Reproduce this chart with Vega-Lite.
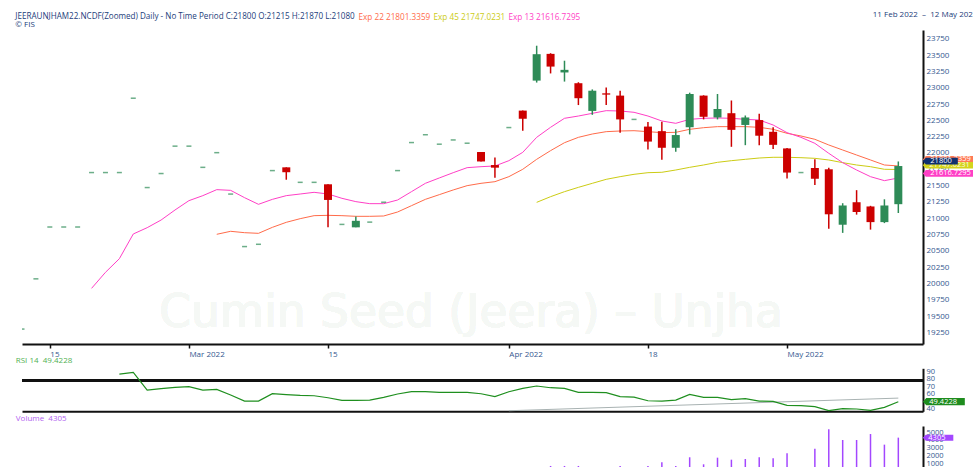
{
  "$schema": "https://vega.github.io/schema/vega-lite/v6.json",
  "background": "white",
  "padding": {"left": 15, "top": 10, "right": 0, "bottom": 0},
  "config": {
    "font": "Open Sans",
    "view": {"stroke": null},
    "axis": {"grid": false, "labelFont": "Open Sans", "titleFont": "Open Sans", "zindex": 0},
    "title": {"font": "Open Sans", "subtitleFont": "Open Sans"}
  },
  "datasets": {
    "rows": [
      {"date":"2022-02-11","o":19300,"h":19300,"l":19300,"c":19300,"e13":null,"e22":null,"e45":null,"rsi":null,"vol":0},
      {"date":"2022-02-14","o":20070,"h":20070,"l":20070,"c":20070,"e13":null,"e22":null,"e45":null,"rsi":null,"vol":0},
      {"date":"2022-02-15","o":20865,"h":20865,"l":20865,"c":20865,"e13":null,"e22":null,"e45":null,"rsi":null,"vol":0},
      {"date":"2022-02-16","o":20865,"h":20865,"l":20865,"c":20865,"e13":null,"e22":null,"e45":null,"rsi":null,"vol":0},
      {"date":"2022-02-17","o":20865,"h":20865,"l":20865,"c":20865,"e13":null,"e22":null,"e45":null,"rsi":null,"vol":0},
      {"date":"2022-02-18","o":21700,"h":21700,"l":21700,"c":21700,"e13":19924,"e22":null,"e45":null,"rsi":null,"vol":0},
      {"date":"2022-02-21","o":21700,"h":21700,"l":21700,"c":21700,"e13":20170,"e22":null,"e45":null,"rsi":null,"vol":0},
      {"date":"2022-02-22","o":21700,"h":21700,"l":21700,"c":21700,"e13":20379,"e22":null,"e45":null,"rsi":86.2,"vol":0},
      {"date":"2022-02-23","o":22840,"h":22840,"l":22840,"c":22840,"e13":20758,"e22":null,"e45":null,"rsi":88.5,"vol":0},
      {"date":"2022-02-24","o":21470,"h":21470,"l":21470,"c":21470,"e13":20855,"e22":null,"e45":null,"rsi":64.9,"vol":0},
      {"date":"2022-02-25","o":21685,"h":21685,"l":21685,"c":21685,"e13":20972,"e22":null,"e45":null,"rsi":66.7,"vol":0},
      {"date":"2022-02-28","o":22105,"h":22105,"l":22105,"c":22105,"e13":21126,"e22":null,"e45":null,"rsi":68.5,"vol":0},
      {"date":"2022-03-01","o":22105,"h":22105,"l":22105,"c":22105,"e13":21269,"e22":null,"e45":null,"rsi":69.4,"vol":0},
      {"date":"2022-03-02","o":21780,"h":21780,"l":21780,"c":21780,"e13":21346,"e22":null,"e45":null,"rsi":64.9,"vol":0},
      {"date":"2022-03-03","o":22005,"h":22005,"l":22005,"c":22005,"e13":21438,"e22":20753,"e45":null,"rsi":65.8,"vol":0},
      {"date":"2022-03-04","o":21370,"h":21370,"l":21370,"c":21370,"e13":21427,"e22":20799,"e45":null,"rsi":58.3,"vol":0},
      {"date":"2022-03-07","o":20565,"h":20565,"l":20565,"c":20565,"e13":21315,"e22":20778,"e45":null,"rsi":50.3,"vol":0},
      {"date":"2022-03-08","o":20600,"h":20600,"l":20600,"c":20600,"e13":21213,"e22":20768,"e45":null,"rsi":50.3,"vol":0},
      {"date":"2022-03-09","o":21730,"h":21730,"l":21730,"c":21730,"e13":21289,"e22":20860,"e45":null,"rsi":60.1,"vol":0},
      {"date":"2022-03-10","o":21780,"h":21780,"l":21590,"c":21705,"e13":21346,"e22":20937,"e45":null,"rsi":58.8,"vol":0},
      {"date":"2022-03-11","o":21550,"h":21550,"l":21550,"c":21550,"e13":21371,"e22":20993,"e45":null,"rsi":57.8,"vol":0},
      {"date":"2022-03-14","o":21550,"h":21550,"l":21550,"c":21550,"e13":21397,"e22":21039,"e45":null,"rsi":57.3,"vol":0},
      {"date":"2022-03-15","o":21520,"h":21520,"l":20860,"c":21280,"e13":21371,"e22":21044,"e45":null,"rsi":54.7,"vol":0},
      {"date":"2022-03-16","o":20905,"h":20905,"l":20905,"c":20905,"e13":21305,"e22":21039,"e45":null,"rsi":51.2,"vol":0},
      {"date":"2022-03-17","o":20860,"h":21025,"l":20860,"c":20960,"e13":21254,"e22":21029,"e45":null,"rsi":51.2,"vol":0},
      {"date":"2022-03-18","o":20940,"h":20940,"l":20940,"c":20940,"e13":21223,"e22":21029,"e45":null,"rsi":51.6,"vol":0},
      {"date":"2022-03-21","o":21245,"h":21245,"l":21245,"c":21245,"e13":21223,"e22":21034,"e45":null,"rsi":55.1,"vol":0},
      {"date":"2022-03-22","o":21730,"h":21730,"l":21730,"c":21730,"e13":21279,"e22":21095,"e45":null,"rsi":59.7,"vol":0},
      {"date":"2022-03-23","o":22160,"h":22160,"l":22160,"c":22160,"e13":21407,"e22":21192,"e45":null,"rsi":62.7,"vol":0},
      {"date":"2022-03-24","o":22280,"h":22280,"l":22280,"c":22280,"e13":21535,"e22":21289,"e45":null,"rsi":62.7,"vol":0},
      {"date":"2022-03-25","o":22135,"h":22135,"l":22135,"c":22135,"e13":21617,"e22":21361,"e45":null,"rsi":61.8,"vol":0},
      {"date":"2022-03-28","o":22200,"h":22200,"l":22200,"c":22200,"e13":21698,"e22":21433,"e45":null,"rsi":61.8,"vol":0},
      {"date":"2022-03-29","o":22150,"h":22150,"l":22150,"c":22150,"e13":21775,"e22":21499,"e45":null,"rsi":61.8,"vol":0},
      {"date":"2022-03-30","o":22015,"h":22015,"l":21870,"c":21870,"e13":21790,"e22":21535,"e45":null,"rsi":60.0,"vol":0},
      {"date":"2022-03-31","o":21815,"h":21930,"l":21620,"c":21775,"e13":21801,"e22":21560,"e45":null,"rsi":56.1,"vol":0},
      {"date":"2022-04-01","o":22390,"h":22390,"l":22390,"c":22390,"e13":21882,"e22":21637,"e45":null,"rsi":62.7,"vol":0},
      {"date":"2022-04-04","o":22650,"h":22650,"l":22340,"c":22525,"e13":22010,"e22":21750,"e45":null,"rsi":67.2,"vol":0},
      {"date":"2022-04-05","o":23110,"h":23645,"l":23080,"c":23515,"e13":22240,"e22":21903,"e45":21243,"rsi":70.3,"vol":0},
      {"date":"2022-04-06","o":23520,"h":23530,"l":23220,"c":23325,"e13":22394,"e22":22036,"e45":21330,"rsi":68.0,"vol":650},
      {"date":"2022-04-07","o":23235,"h":23415,"l":23095,"c":23275,"e13":22532,"e22":22158,"e45":21407,"rsi":67.2,"vol":650},
      {"date":"2022-04-08","o":23070,"h":23085,"l":22735,"c":22840,"e13":22567,"e22":22240,"e45":21473,"rsi":61.8,"vol":650},
      {"date":"2022-04-11","o":22645,"h":22975,"l":22585,"c":22955,"e13":22608,"e22":22291,"e45":21535,"rsi":61.8,"vol":300},
      {"date":"2022-04-12","o":22915,"h":23005,"l":22735,"c":22895,"e13":22649,"e22":22327,"e45":21596,"rsi":61.4,"vol":300},
      {"date":"2022-04-13","o":22880,"h":22955,"l":22310,"c":22515,"e13":22644,"e22":22337,"e45":21637,"rsi":56.1,"vol":650},
      {"date":"2022-04-14","o":22515,"h":22515,"l":22515,"c":22515,"e13":22624,"e22":22342,"e45":21673,"rsi":55.6,"vol":300},
      {"date":"2022-04-18","o":22405,"h":22475,"l":22055,"c":22175,"e13":22567,"e22":22327,"e45":21698,"rsi":50.7,"vol":650},
      {"date":"2022-04-19","o":22335,"h":22480,"l":21895,"c":22080,"e13":22491,"e22":22312,"e45":21704,"rsi":50.3,"vol":1120},
      {"date":"2022-04-20","o":22080,"h":22365,"l":22020,"c":22275,"e13":22455,"e22":22317,"e45":21739,"rsi":51.6,"vol":650},
      {"date":"2022-04-21","o":22395,"h":22925,"l":22285,"c":22905,"e13":22516,"e22":22363,"e45":21780,"rsi":59.2,"vol":1770},
      {"date":"2022-04-22","o":22880,"h":22885,"l":22515,"c":22555,"e13":22532,"e22":22388,"e45":21816,"rsi":55.2,"vol":865},
      {"date":"2022-04-25","o":22545,"h":22905,"l":22515,"c":22675,"e13":22537,"e22":22404,"e45":21857,"rsi":55.2,"vol":1720},
      {"date":"2022-04-26","o":22610,"h":22805,"l":22095,"c":22355,"e13":22532,"e22":22404,"e45":21882,"rsi":52.1,"vol":1460},
      {"date":"2022-04-27","o":22430,"h":22575,"l":22120,"c":22545,"e13":22516,"e22":22404,"e45":21903,"rsi":53.4,"vol":1550},
      {"date":"2022-04-28","o":22505,"h":22600,"l":22120,"c":22265,"e13":22506,"e22":22394,"e45":21923,"rsi":50.3,"vol":1770},
      {"date":"2022-04-29","o":22325,"h":22395,"l":22060,"c":22125,"e13":22429,"e22":22363,"e45":21934,"rsi":49.9,"vol":1635},
      {"date":"2022-05-02","o":22070,"h":22075,"l":21610,"c":21700,"e13":22312,"e22":22302,"e45":21934,"rsi":44.6,"vol":2280},
      {"date":"2022-05-03","o":21700,"h":21700,"l":21700,"c":21700,"e13":22240,"e22":22261,"e45":21928,"rsi":44.1,"vol":300},
      {"date":"2022-05-04","o":21770,"h":21905,"l":21510,"c":21605,"e13":22148,"e22":22210,"e45":21918,"rsi":42.8,"vol":2880},
      {"date":"2022-05-05","o":21750,"h":21775,"l":20840,"c":21060,"e13":21995,"e22":22123,"e45":21893,"rsi":37.5,"vol":5380},
      {"date":"2022-05-06","o":20900,"h":21230,"l":20775,"c":21195,"e13":21852,"e22":22046,"e45":21852,"rsi":40.1,"vol":4000},
      {"date":"2022-05-09","o":21245,"h":21430,"l":21055,"c":21095,"e13":21739,"e22":21969,"e45":21816,"rsi":39.7,"vol":4000},
      {"date":"2022-05-10","o":21180,"h":21190,"l":20825,"c":20940,"e13":21637,"e22":21893,"e45":21790,"rsi":37.9,"vol":4770},
      {"date":"2022-05-11","o":20940,"h":21290,"l":20925,"c":21195,"e13":21576,"e22":21816,"e45":21750,"rsi":41.9,"vol":3400},
      {"date":"2022-05-12","o":21215,"h":21870,"l":21080,"c":21800,"e13":21616.7295,"e22":21801.3359,"e45":21747.0231,"rsi":49.4228,"vol":4305}
    ],
    "trend": [
      {"date":"2022-04-01","v":37.4},
      {"date":"2022-05-12","v":54.2}
    ]
  },
  "bounds": "flush",
  "spacing": 24.3,
  "vconcat": [
    {
      "width": 901,
      "height": 314,
      "data": {"name": "rows"},
      "title": {
        "text": "JEERAUNJHAM22.NCDF(Zoomed) Daily - No Time Period C:21800 O:21215 H:21870 L:21080",
        "subtitle": "© FIS",
        "anchor": "start",
        "frame": "group",
        "dx": -6.7,
        "offset": -18.3,
        "fontSize": 8.1,
        "fontWeight": "normal",
        "color": "#1b3d7a",
        "subtitleFontSize": 8,
        "subtitleColor": "#1b3d7a",
        "subtitlePadding": 0
      },
      "encoding": {
        "x": {
          "field": "date",
          "type": "ordinal",
          "scale": {"type": "point", "padding": 0.887, "align": 0},
          "axis": {
            "values": ["2022-02-15","2022-03-01","2022-03-15","2022-04-01","2022-04-18","2022-05-02"],
            "labelExpr": "datum.value == '2022-02-15' ? '15' : datum.value == '2022-03-01' ? 'Mar 2022' : datum.value == '2022-03-15' ? '15' : datum.value == '2022-04-01' ? 'Apr 2022' : datum.value == '2022-04-18' ? '18' : 'May 2022'",
            "labelAlign": "left",
            "labelAngle": 0,
            "labelFontSize": 8,
            "labelColor": "#34588f",
            "labelPadding": 2,
            "labelOverlap": false,
            "labelFlush": false,
            "tickColor": "#111",
            "tickSize": 4,
            "tickWidth": 1.5,
            "domainColor": "#111",
            "domainWidth": 2,
            "title": null
          }
        }
      },
      "layer": [
        {
          "mark": {"type": "text", "text": "Cumin Seed (Jeera) – Unjha", "font": "DejaVu Sans", "fontSize": 45.5, "color": "#f5f8f5", "align": "center", "baseline": "alphabetic", "dx": 4},
          "encoding": {
            "x": {"datum": "2022-03-29", "type": "ordinal"},
            "y": {"datum": 19336, "type": "quantitative", "scale": {"domain": [19071, 23886], "nice": false, "zero": false}}
          }
        },
        {
          "transform": [{"fold": ["e22", "e45", "e13"], "as": ["ema", "val"]}],
          "mark": {"type": "line", "strokeWidth": 1, "clip": true},
          "encoding": {
            "y": {
              "field": "val",
              "type": "quantitative",
              "scale": {"domain": [19071, 23886], "nice": false, "zero": false},
              "axis": {
                "orient": "right",
                "values": [19250,19500,19750,20000,20250,20500,20750,21000,21250,21500,21750,22000,22250,22500,22750,23000,23250,23500,23750],
                "tickCount": 100,
                "format": "d",
                "ticks": false,
                "labelPadding": 3,
                "labelFontSize": 8,
                "labelColor": "#34588f",
                "labelOverlap": false,
                "labelFlush": false,
                "domainColor": "#111",
                "domainWidth": 2,
                "title": "11 Feb 2022\u00a0 –\u00a0 12 May 2022",
                "titleAngle": 0,
                "titleAlign": "left",
                "titleBaseline": "middle",
                "titleX": -50.7,
                "titleY": -15.7,
                "titleFontSize": 8,
                "titleFontWeight": "normal",
                "titleColor": "#1b3d7a"
              }
            },
            "color": {
              "field": "ema",
              "type": "nominal",
              "scale": {"domain": ["e22", "e45", "e13"], "range": ["#ff6b4a", "#cccc14", "#ff3fc6"]},
              "legend": {
                "orient": "none",
                "legendX": 336.3,
                "legendY": -16.7,
                "direction": "horizontal",
                "title": null,
                "padding": 0,
                "symbolSize": 0,
                "symbolOpacity": 0,
                "symbolStrokeWidth": 0,
                "labelOffset": -8,
                "columnPadding": 3,
                "labelFontSize": 8.2,
                "labelExpr": "datum.value == 'e22' ? 'Exp 22 21801.3359' : datum.value == 'e45' ? 'Exp 45 21747.0231' : 'Exp 13 21616.7295'",
                "encode": {"labels": {"update": {"fill": {"signal": "datum.value == 'e22' ? '#ff6b4a' : datum.value == 'e45' ? '#cccc14' : '#ff3fc6'"}}}}
              }
            }
          }
        },
        {
          "mark": {"type": "rule", "strokeWidth": 1.5, "clip": true},
          "encoding": {
            "y": {"field": "l", "type": "quantitative", "scale": {"domain": [19071, 23886], "nice": false, "zero": false}},
            "y2": {"field": "h"},
            "color": {"condition": {"test": "datum.c >= datum.o", "value": "#2e8b57"}, "value": "#cc0000"}
          }
        },
        {
          "transform": [{"filter": "datum.o != datum.c"}],
          "mark": {"type": "bar", "width": 8, "clip": true},
          "encoding": {
            "y": {"field": "o", "type": "quantitative", "scale": {"domain": [19071, 23886], "nice": false, "zero": false}},
            "y2": {"field": "c"},
            "color": {"condition": {"test": "datum.c >= datum.o", "value": "#2e8b57"}, "value": "#cc0000"}
          }
        },
        {
          "transform": [{"filter": "datum.o == datum.c"}],
          "mark": {"type": "tick", "orient": "horizontal", "size": 5, "thickness": 1.5, "color": "#2e8b57", "clip": true},
          "encoding": {
            "y": {"field": "c", "type": "quantitative", "scale": {"domain": [19071, 23886], "nice": false, "zero": false}}
          }
        },
        {
          "transform": [{"filter": "datum.date == '2022-05-12'"}],
          "mark": {"type": "point", "shape": "M2.45,-0.65L2.75,-0.99L8,-0.99L8,-0.31L2.75,-0.31Z", "size": 400, "filled": true, "opacity": 1, "color": "#ff7a55", "strokeWidth": 0},
          "encoding": {"y": {"field": "e22", "type": "quantitative", "scale": {"domain": [19071, 23886], "nice": false, "zero": false}}}
        },
        {
          "transform": [{"filter": "datum.date == '2022-05-12'"}],
          "mark": {"type": "text", "align": "left", "baseline": "middle", "dx": 32, "dy": -6.5, "fontSize": 7.5, "color": "white"},
          "encoding": {
            "y": {"field": "e22", "type": "quantitative", "scale": {"domain": [19071, 23886], "nice": false, "zero": false}},
            "text": {"field": "e22", "type": "quantitative", "format": ".4f"}
          }
        },
        {
          "transform": [{"filter": "datum.date == '2022-05-12'"}],
          "mark": {"type": "point", "shape": "M2.45,-0.42L2.75,-0.74L8,-0.74L8,-0.10L2.75,-0.10Z", "size": 400, "filled": true, "opacity": 1, "color": "#d4d41c", "strokeWidth": 0},
          "encoding": {"y": {"field": "e45", "type": "quantitative", "scale": {"domain": [19071, 23886], "nice": false, "zero": false}}}
        },
        {
          "transform": [{"filter": "datum.date == '2022-05-12'"}],
          "mark": {"type": "text", "align": "left", "baseline": "middle", "dx": 31, "dy": -4.2, "fontSize": 7.5, "color": "#fbfbe8"},
          "encoding": {
            "y": {"field": "e45", "type": "quantitative", "scale": {"domain": [19071, 23886], "nice": false, "zero": false}},
            "text": {"field": "e45", "type": "quantitative", "format": ".4f"}
          }
        },
        {
          "transform": [{"filter": "datum.date == '2022-05-12'"}],
          "mark": {"type": "point", "shape": "M2.45,-0.46L2.75,-0.8L8,-0.8L8,-0.12L2.75,-0.12Z", "size": 400, "filled": true, "opacity": 1, "color": "#ff3fc6", "strokeWidth": 0},
          "encoding": {"y": {"field": "e13", "type": "quantitative", "scale": {"domain": [19071, 23886], "nice": false, "zero": false}}}
        },
        {
          "transform": [{"filter": "datum.date == '2022-05-12'"}],
          "mark": {"type": "text", "align": "left", "baseline": "middle", "dx": 32, "dy": -4.6, "fontSize": 7.5, "color": "white"},
          "encoding": {
            "y": {"field": "e13", "type": "quantitative", "scale": {"domain": [19071, 23886], "nice": false, "zero": false}},
            "text": {"field": "e13", "type": "quantitative", "format": ".4f"}
          }
        },
        {
          "transform": [{"filter": "datum.date == '2022-05-12'"}],
          "mark": {"type": "point", "shape": "M2.45,-0.5L2.75,-0.84L5.95,-0.84L5.95,-0.16L2.75,-0.16Z", "size": 400, "filled": true, "opacity": 1, "color": "#0f2f6e", "strokeWidth": 0},
          "encoding": {"y": {"field": "c", "type": "quantitative", "scale": {"domain": [19071, 23886], "nice": false, "zero": false}}}
        },
        {
          "transform": [{"filter": "datum.date == '2022-05-12'"}],
          "mark": {"type": "text", "align": "left", "baseline": "middle", "dx": 32, "dy": -5, "fontSize": 7.5, "color": "white"},
          "encoding": {
            "y": {"field": "c", "type": "quantitative", "scale": {"domain": [19071, 23886], "nice": false, "zero": false}},
            "text": {"field": "c", "type": "quantitative", "format": "d"}
          }
        }
      ]
    },
    {
      "bounds": "flush",
      "spacing": 14.7,
      "vconcat": [
        {
          "width": 901,
          "height": 43,
          "layer": [
            {
              "data": {"name": "trend"},
              "mark": {"type": "line", "color": "#a8b2b2", "strokeWidth": 1},
              "encoding": {
                "x": {"field": "date", "type": "ordinal", "scale": {"type": "point", "padding": 0.887, "align": 0}, "axis": {"labels": false, "ticks": false, "domainColor": "#111", "domainWidth": 2, "title": null}},
                "y": {"field": "v", "type": "quantitative", "scale": {"domain": [36.65, 93.83], "nice": false, "zero": false}}
              }
            },
            {
              "data": {"name": "rows"},
              "mark": {"type": "rule", "color": "#111", "strokeWidth": 2},
              "encoding": {
                "y": {"datum": 78, "type": "quantitative", "scale": {"domain": [36.65, 93.83], "nice": false, "zero": false}}
              }
            },
            {
              "data": {"name": "rows"},
              "mark": {"type": "line", "color": "#1f8f1f", "strokeWidth": 1.2},
              "encoding": {
                "x": {"field": "date", "type": "ordinal", "scale": {"type": "point", "padding": 0.887, "align": 0}, "axis": {"labels": false, "ticks": false, "domainColor": "#111", "domainWidth": 2, "title": null}},
                "y": {
                  "field": "rsi",
                  "type": "quantitative",
                  "scale": {"domain": [36.65, 93.83], "nice": false, "zero": false},
                  "axis": {
                    "orient": "right",
                    "values": [40, 50, 60, 70, 80, 90],
                    "tickCount": 100,
                    "format": "d",
                    "ticks": false,
                    "labelPadding": 3,
                    "labelFontSize": 7.5,
                    "labelColor": "#34588f",
                    "labelOverlap": false,
                    "labelFlush": false,
                    "domainColor": "#111",
                    "domainWidth": 2,
                    "title": "RSI 14\u00a0 49.4228",
                    "titleAngle": 0,
                    "titleAlign": "left",
                    "titleBaseline": "middle",
                    "titleX": -907.7,
                    "titleY": -8.3,
                    "titleFontSize": 8,
                    "titleFontWeight": "normal",
                    "titleColor": "#52b152"
                  }
                }
              }
            },
            {
              "data": {"name": "rows"},
              "transform": [{"filter": "datum.date == '2022-05-12'"}],
              "mark": {"type": "point", "shape": "M2.45,0L2.8,-0.36L6.65,-0.36L6.65,0.36L2.8,0.36Z", "size": 400, "filled": true, "opacity": 1, "color": "#1e8c1e", "strokeWidth": 0},
              "encoding": {
                "x": {"field": "date", "type": "ordinal", "scale": {"type": "point", "padding": 0.887, "align": 0}},
                "y": {"field": "rsi", "type": "quantitative", "scale": {"domain": [36.65, 93.83], "nice": false, "zero": false}}
              }
            },
            {
              "data": {"name": "rows"},
              "transform": [{"filter": "datum.date == '2022-05-12'"}],
              "mark": {"type": "text", "align": "left", "baseline": "middle", "dx": 31, "fontSize": 7.5, "color": "white"},
              "encoding": {
                "x": {"field": "date", "type": "ordinal", "scale": {"type": "point", "padding": 0.887, "align": 0}},
                "y": {"field": "rsi", "type": "quantitative", "scale": {"domain": [36.65, 93.83], "nice": false, "zero": false}},
                "text": {"field": "rsi", "type": "quantitative", "format": ".4f"}
              }
            }
          ]
        },
        {
          "width": 901,
          "height": 45,
          "data": {"name": "rows"},
          "layer": [
            {
              "mark": {"type": "bar", "width": 1.5, "color": "#a347ff"},
              "encoding": {
                "x": {"field": "date", "type": "ordinal", "scale": {"type": "point", "padding": 0.887, "align": 0}, "axis": null},
                "y": {
                  "field": "vol",
                  "type": "quantitative",
                  "scale": {"domain": [0, 5806], "nice": false},
                  "axis": {
                    "orient": "right",
                    "values": [1000, 2000, 3000, 4000, 5000],
                    "tickCount": 100,
                    "format": "d",
                    "ticks": false,
                    "labelPadding": 3,
                    "labelFontSize": 7.5,
                    "labelColor": "#34588f",
                    "labelOverlap": false,
                    "labelFlush": false,
                    "domainColor": "#111",
                    "domainWidth": 2,
                    "title": "Volume\u00a0 4305",
                    "titleAngle": 0,
                    "titleAlign": "left",
                    "titleBaseline": "middle",
                    "titleX": -907.7,
                    "titleY": -8,
                    "titleFontSize": 8,
                    "titleFontWeight": "normal",
                    "titleColor": "#b264f0"
                  }
                }
              }
            },
            {
              "transform": [{"filter": "datum.date == '2022-05-12'"}],
              "mark": {"type": "point", "shape": "M2.45,0L2.75,-0.3L5.5,-0.3L5.5,0.3L2.75,0.3Z", "size": 400, "filled": true, "opacity": 1, "color": "#a347ff", "strokeWidth": 0},
              "encoding": {
                "x": {"field": "date", "type": "ordinal", "scale": {"type": "point", "padding": 0.887, "align": 0}},
                "y": {"field": "vol", "type": "quantitative", "scale": {"domain": [0, 5806], "nice": false}}
              }
            },
            {
              "transform": [{"filter": "datum.date == '2022-05-12'"}],
              "mark": {"type": "text", "align": "left", "baseline": "middle", "dx": 30, "fontSize": 7.5, "color": "white"},
              "encoding": {
                "x": {"field": "date", "type": "ordinal", "scale": {"type": "point", "padding": 0.887, "align": 0}},
                "y": {"field": "vol", "type": "quantitative", "scale": {"domain": [0, 5806], "nice": false}},
                "text": {"field": "vol", "type": "quantitative", "format": "d"}
              }
            }
          ]
        }
      ]
    }
  ]
}
